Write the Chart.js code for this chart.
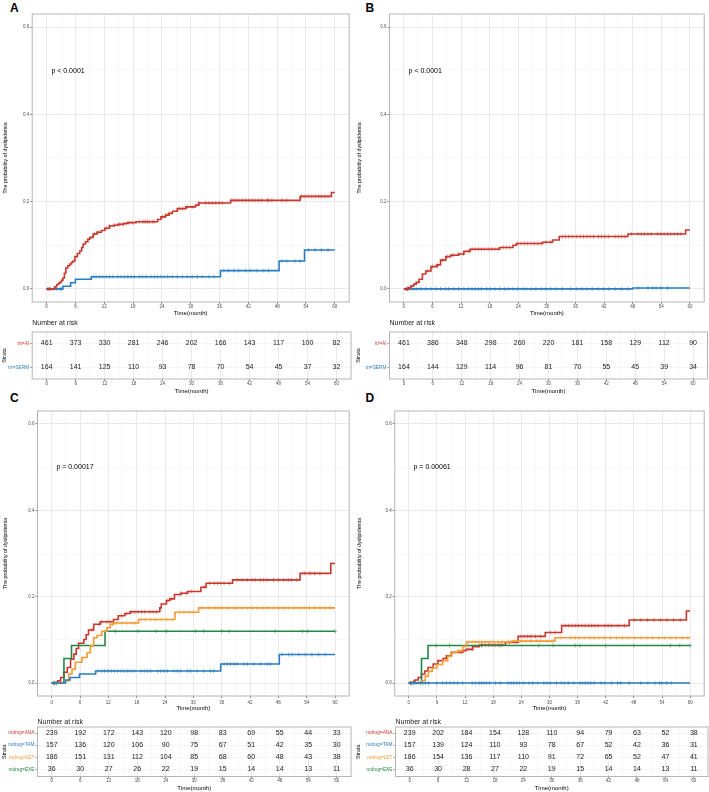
<!DOCTYPE html>
<html>
<head>
<meta charset="utf-8">
<script src="https://cdn.jsdelivr.net/npm/chart.js@4.4.1/dist/chart.umd.min.js"></script>
<style>
body { margin: 0; background: #fff; width: 709px; height: 792px; position: relative; overflow: hidden; font-family: "Liberation Sans", Arial, sans-serif; }
canvas { position: absolute; }
.tag { position: absolute; font-weight: bold; font-size: 12px; line-height: 12px; color: #000; }
</style>
</head>
<body>
<div class="tag" style="left:10px;top:1.7px">A</div>
<div class="tag" style="left:365.5px;top:2.3px">B</div>
<div class="tag" style="left:10px;top:391.7px">C</div>
<div class="tag" style="left:365.5px;top:391.7px">D</div>
<canvas id="kmA"></canvas>
<canvas id="riskA"></canvas>
<canvas id="kmB"></canvas>
<canvas id="riskB"></canvas>
<canvas id="kmC"></canvas>
<canvas id="riskC"></canvas>
<canvas id="kmD"></canvas>
<canvas id="riskD"></canvas>
<script>
// axis ticks
const months = [0, 6, 12, 18, 24, 30, 36, 42, 48, 54, 60];
const monthGrid = [0, 3, 6, 9, 12, 15, 18, 21, 24, 27, 30, 33, 36, 39, 42, 45, 48, 51, 54, 57, 60];
const probGrid = [0, 0.1, 0.2, 0.3, 0.4, 0.5, 0.6];

const trtLabels = ['trt=AI', 'trt=SERM'];
const drugLabels = ['mdrug=ANA', 'mdrug=TAM', 'mdrug=LET', 'mdrug=EXE'];

const RED = '#C9372C', BLUE = '#2A7DC0', ORANGE = '#F39B33', GREEN = '#23874A';

// ---- panel A : trt ----
const aAiTime = [0, 1.7, 2.1, 2.5, 2.8, 3.1, 3.4, 3.7, 4.0, 4.4, 4.8, 5.2, 5.5, 5.9, 6.4, 6.9, 7.3, 7.6, 8.1, 8.6, 9.0, 9.7, 10.5, 11.4, 12.1, 13.1, 14.0, 14.8, 16.0, 16.9, 18.6, 23.1, 23.8, 24.8, 25.5, 26.2, 27.2, 29.0, 31.0, 31.7, 38.3, 52.8, 59.3, 60];
const aAiProb = [0, 0.005, 0.010, 0.013, 0.016, 0.020, 0.025, 0.036, 0.048, 0.053, 0.057, 0.061, 0.064, 0.074, 0.081, 0.087, 0.095, 0.103, 0.108, 0.114, 0.118, 0.126, 0.130, 0.134, 0.139, 0.144, 0.146, 0.148, 0.150, 0.152, 0.154, 0.159, 0.165, 0.169, 0.173, 0.178, 0.184, 0.188, 0.192, 0.197, 0.203, 0.212, 0.221, 0.221];
const aAiCens = [0.3, 0.7, 10.0, 10.7, 12.4, 13.1, 14.1, 15.2, 15.9, 16.6, 17.2, 17.9, 19.3, 20.0, 20.3, 20.7, 21.0, 21.4, 22.1, 22.4, 24.1, 24.8, 25.5, 27.6, 28.3, 29.3, 30.3, 31.7, 33.1, 33.8, 34.5, 35.2, 35.9, 36.6, 38.6, 39.3, 40.0, 40.7, 41.4, 42.1, 42.8, 43.4, 44.1, 44.8, 45.9, 46.2, 46.9, 49.0, 50.0, 53.1, 53.8, 54.5, 55.2, 55.9, 56.6, 57.2, 57.9, 58.6];
const aSermTime = [0, 3.4, 5.0, 6.0, 9.3, 36.2, 48.4, 53.7, 60];
const aSermProb = [0, 0.006, 0.014, 0.022, 0.028, 0.042, 0.064, 0.089, 0.089];
const aSermCens = [0.3, 0.7, 1.4, 2.1, 2.8, 3.1, 9.7, 10.3, 11.0, 11.7, 12.4, 13.1, 13.8, 14.8, 15.5, 16.2, 16.9, 17.6, 18.3, 19.3, 20.0, 20.7, 21.7, 22.4, 23.1, 23.8, 24.5, 25.2, 26.2, 27.2, 28.3, 29.3, 30.3, 31.4, 32.4, 33.8, 34.8, 36.9, 37.9, 39.0, 40.0, 41.4, 42.4, 43.8, 45.2, 46.2, 49.0, 50.0, 51.7, 52.8, 54.5, 55.9, 57.2, 58.6];
const aRiskAi = [461, 373, 330, 281, 246, 202, 166, 143, 117, 100, 82];
const aRiskSerm = [164, 141, 125, 110, 93, 78, 70, 54, 45, 37, 32];

// ---- panel B : trt ----
const bAiTime = [0, 1.0, 1.5, 2.1, 2.6, 3.2, 3.9, 4.6, 5.7, 7.0, 7.7, 8.8, 9.8, 11.5, 12.6, 13.9, 20.1, 22.9, 23.6, 29.1, 31.2, 32.6, 47.0, 59.1, 60];
const bAiProb = [0, 0.003, 0.007, 0.011, 0.015, 0.022, 0.034, 0.041, 0.051, 0.055, 0.066, 0.074, 0.077, 0.080, 0.086, 0.091, 0.095, 0.100, 0.104, 0.107, 0.112, 0.120, 0.126, 0.135, 0.135];
const bAiCens = [0.5, 0.8, 5.0, 6.0, 7.0, 8.1, 9.1, 10.1, 10.5, 11.5, 12.5, 13.6, 14.3, 15.0, 15.7, 16.3, 17.0, 17.7, 18.4, 19.1, 19.8, 20.8, 21.5, 22.2, 23.9, 24.6, 25.3, 26.0, 26.7, 27.4, 28.1, 28.8, 29.8, 30.8, 33.2, 33.9, 34.6, 35.3, 36.3, 37.0, 37.7, 38.4, 39.1, 39.8, 40.8, 41.5, 42.2, 42.9, 44.3, 45.0, 45.7, 46.4, 47.7, 49.1, 49.8, 50.5, 51.2, 51.9, 53.2, 53.9, 54.6, 55.3, 56.0, 56.7, 57.4, 58.1];
const bSermTime = [0, 48.0, 60];
const bSermProb = [0, 0.002, 0.002];
const bSermCens = [0.5, 0.8, 1.2, 1.9, 2.6, 3.6, 4.6, 5.7, 6.7, 7.7, 8.8, 9.4, 10.5, 11.5, 12.6, 13.6, 14.3, 15.0, 15.7, 16.3, 17.4, 18.1, 19.1, 20.1, 21.2, 21.9, 22.9, 23.9, 25.0, 25.7, 26.7, 27.7, 28.8, 29.8, 30.8, 31.9, 33.2, 35.0, 36.3, 37.4, 38.4, 39.5, 40.8, 41.9, 42.9, 44.3, 45.7, 47.0, 49.1, 51.2, 52.2, 52.9, 53.9, 55.3];
const bRiskAi = [461, 386, 348, 298, 260, 220, 181, 158, 129, 112, 90];
const bRiskSerm = [164, 144, 129, 114, 96, 81, 70, 55, 45, 39, 34];

// ---- panel C : mdrug ----
const cAnaTime = [0, 1.3, 1.9, 2.6, 3.3, 4.0, 4.7, 5.2, 5.7, 6.8, 7.3, 7.8, 8.9, 10.3, 13.1, 14.1, 15.5, 16.6, 22.9, 23.2, 24.3, 25.0, 26.0, 27.4, 28.8, 31.6, 32.7, 38.3, 52.6, 59.1, 60];
const cAnaProb = [0, 0.005, 0.013, 0.025, 0.036, 0.055, 0.067, 0.080, 0.092, 0.101, 0.112, 0.123, 0.136, 0.142, 0.147, 0.156, 0.161, 0.165, 0.174, 0.183, 0.191, 0.195, 0.205, 0.208, 0.212, 0.222, 0.231, 0.239, 0.254, 0.277, 0.277];
const cAnaCens = [0.5, 8.5, 10.0, 10.6, 11.7, 12.4, 14.8, 15.9, 16.9, 17.6, 18.3, 19.0, 19.7, 20.8, 21.5, 22.2, 24.6, 25.3, 27.4, 28.5, 29.5, 32.3, 33.4, 34.4, 35.1, 35.8, 36.5, 37.6, 39.3, 40.3, 41.4, 42.4, 43.1, 44.2, 44.9, 45.6, 47.0, 48.0, 49.1, 50.1, 50.8, 51.9, 53.6, 54.7, 55.7, 56.8];
const cTamTime = [0, 2.9, 3.9, 5.9, 9.3, 35.8, 48.2, 60];
const cTamProb = [0, 0.007, 0.013, 0.021, 0.028, 0.044, 0.066, 0.066];
const cTamCens = [0.3, 0.6, 1.0, 9.8, 10.5, 11.2, 11.9, 12.6, 13.3, 14.0, 14.7, 15.4, 16.1, 16.8, 17.5, 18.9, 19.6, 20.3, 21.0, 22.4, 23.1, 23.8, 24.5, 25.9, 26.6, 27.3, 28.7, 29.4, 30.8, 32.2, 33.6, 34.3, 36.5, 37.2, 37.9, 38.6, 39.3, 40.7, 41.4, 42.8, 44.2, 45.6, 46.3, 48.8, 50.2, 50.9, 52.3, 53.7, 55.1, 56.5, 57.9];
const cLetTime = [0, 2.9, 3.6, 4.3, 5.0, 6.4, 7.5, 8.2, 8.9, 9.6, 10.6, 11.7, 12.4, 13.1, 18.4, 26.1, 31.1, 60];
const cLetProb = [0, 0.005, 0.021, 0.032, 0.048, 0.059, 0.070, 0.086, 0.105, 0.110, 0.120, 0.128, 0.136, 0.139, 0.147, 0.164, 0.174, 0.174];
const cLetCens = [0.4, 0.8, 1.5, 2.0, 12.9, 13.8, 14.8, 15.9, 17.0, 17.7, 18.9, 19.8, 20.9, 22.0, 23.3, 24.4, 25.5, 27.2, 28.0, 29.1, 30.0, 31.8, 33.3, 34.6, 35.4, 36.2, 37.5, 38.6, 39.2, 40.3, 41.4, 42.5, 43.6, 44.7, 45.8, 46.9, 48.0, 49.1, 50.2, 51.3, 52.4, 53.5, 54.6, 55.7, 56.8, 57.9, 59.0];
const cExeTime = [0, 2.6, 4.2, 11.3, 60];
const cExeProb = [0, 0.057, 0.087, 0.120, 0.120];
const cExeCens = [0.5, 1.0, 13.5, 18.3, 22.1, 24.3, 30.5, 32.2, 36.0, 37.6, 47.3, 53.1, 54.2, 60];
const cRiskAna = [239, 192, 172, 143, 120, 98, 83, 69, 55, 44, 33];
const cRiskTam = [157, 136, 120, 106, 90, 75, 67, 51, 42, 35, 30];
const cRiskLet = [186, 151, 131, 112, 104, 85, 68, 60, 48, 43, 38];
const cRiskExe = [36, 30, 27, 26, 22, 19, 15, 14, 14, 13, 11];

// ---- panel D : mdrug ----
const dAnaTime = [0, 1.0, 1.3, 2.0, 2.7, 3.4, 4.1, 5.2, 6.2, 7.3, 8.0, 9.1, 11.5, 12.2, 13.6, 15.0, 20.6, 23.3, 29.1, 32.6, 47.0, 59.2, 60];
const dAnaProb = [0, 0.004, 0.007, 0.013, 0.021, 0.028, 0.036, 0.044, 0.052, 0.057, 0.063, 0.071, 0.075, 0.078, 0.084, 0.088, 0.094, 0.108, 0.117, 0.133, 0.146, 0.167, 0.167];
const dAnaCens = [0.3, 0.6, 12.8, 13.5, 15.6, 16.3, 17.0, 17.7, 18.4, 19.1, 19.8, 21.5, 23.9, 24.6, 25.3, 26.0, 27.0, 28.1, 30.2, 31.2, 33.4, 34.1, 34.8, 35.5, 36.2, 36.9, 37.6, 38.3, 39.0, 39.7, 40.4, 41.8, 42.5, 43.2, 44.6, 46.0, 48.1, 49.5, 50.9, 52.3, 53.7, 55.1, 56.5, 57.9];
const dTamTime = [0, 60];
const dTamProb = [0, 0];
const dTamCens = [0.3, 0.6, 1.0, 1.5, 2.0, 2.5, 3.0, 3.5, 4.2, 6.0, 7.2, 8.0, 8.8, 9.6, 10.4, 11.5, 13.5, 14.2, 15.0, 15.5, 16.0, 16.5, 17.2, 18.5, 19.5, 21.2, 21.8, 22.4, 23.0, 23.6, 24.5, 25.6, 26.4, 27.5, 28.8, 29.5, 30.2, 31.5, 32.5, 33.2, 34.0, 35.2, 36.5, 37.0, 37.6, 38.2, 38.8, 39.5, 41.0, 41.8, 43.2, 44.5, 45.2, 47.0, 49.5, 51.0, 52.5, 53.5, 54.0, 55.0, 56.0];
const dLetTime = [0, 2.8, 3.5, 4.2, 5.0, 6.0, 7.2, 8.3, 9.0, 10.5, 11.5, 12.3, 22.0, 31.2, 60];
const dLetProb = [0, 0.006, 0.016, 0.027, 0.035, 0.043, 0.052, 0.062, 0.071, 0.075, 0.085, 0.095, 0.097, 0.105, 0.105];
const dLetCens = [0.5, 1.0, 12.8, 13.5, 14.2, 14.9, 15.6, 16.4, 17.2, 18.1, 19.0, 20.0, 21.2, 22.5, 24.0, 25.0, 26.1, 27.3, 28.2, 29.5, 30.6, 32.5, 34.5, 35.5, 36.4, 37.4, 38.6, 39.5, 40.5, 41.7, 43.0, 44.3, 45.5, 46.8, 48.2, 49.5, 50.8, 52.0, 53.3, 54.6, 55.8, 57.0, 58.3, 59.5];
const dExeTime = [0, 2.7, 4.1, 60];
const dExeProb = [0, 0.057, 0.087, 0.087];
const dExeCens = [0.4, 1.0, 5.8, 8.7, 15.5, 19.5, 27.7, 30.8, 35.5, 36.5, 42.0, 48.0, 55.8, 57.8, 60];
const dRiskAna = [239, 202, 184, 154, 128, 110, 94, 79, 63, 52, 38];
const dRiskTam = [157, 139, 124, 110, 93, 78, 67, 52, 42, 36, 31];
const dRiskLet = [186, 154, 136, 117, 110, 91, 72, 65, 52, 47, 41];
const dRiskExe = [36, 30, 28, 27, 22, 19, 15, 14, 14, 13, 11];

Chart.defaults.font.family = '"Liberation Sans", Arial, sans-serif';
Chart.defaults.animation = false;

const FONT = '"Liberation Sans", Arial, sans-serif';

// value of a step curve at time t (censor marks sit on the curve)
function levelAt(time, prob, t) {
    let v = prob[0];
    for (let i = 0; i < time.length; i++) {
        if (time[i] <= t) v = prob[i];
    }
    return v;
}

// ggplot style panel border
const panelBox = {
    id: 'panelBox',
    afterDraw(chart) {
        const a = chart.chartArea, ctx = chart.ctx;
        ctx.save();
        ctx.strokeStyle = '#B5B5B5';
        ctx.lineWidth = 1;
        ctx.strokeRect(a.left, a.top, a.right - a.left, a.bottom - a.top);
        ctx.restore();
    }
};

const pvalLabel = {
    id: 'pvalLabel',
    afterDatasetsDraw(chart, args, opts) {
        const ctx = chart.ctx;
        ctx.save();
        ctx.font = '7px ' + FONT;
        ctx.fillStyle = '#000';
        ctx.textAlign = 'left';
        ctx.textBaseline = 'middle';
        ctx.fillText(opts.text, chart.scales.x.getPixelForValue(opts.x), chart.scales.y.getPixelForValue(opts.y));
        ctx.restore();
    }
};

const riskNumbers = {
    id: 'riskNumbers',
    afterDatasetsDraw(chart) {
        const ctx = chart.ctx;
        ctx.save();
        ctx.font = '7px ' + FONT;
        ctx.fillStyle = '#1A1A1A';
        ctx.textAlign = 'center';
        ctx.textBaseline = 'middle';
        chart.data.datasets.forEach((ds, i) => {
            chart.getDatasetMeta(i).data.forEach((pt, j) => ctx.fillText(ds.data[j].n, pt.x, pt.y));
        });
        ctx.restore();
    }
};

function place(id, g) {
    const c = document.getElementById(id);
    c.width = g.w;
    c.height = g.h;
    c.style.left = g.left + 'px';
    c.style.top = g.top + 'px';
    return c;
}

function timeAxis(g) {
    return {
        type: 'linear', min: -3, max: 63,
        afterBuildTicks: s => { s.ticks = monthGrid.map(v => ({ value: v })); },
        afterFit: s => { s.height = g.xh; },
        ticks: {
            callback: v => (v % 6 === 0 ? v : ''),
            autoSkip: false, maxRotation: 0, padding: g.tp,
            font: { size: 4.5 }, color: '#4D4D4D'
        },
        grid: {
            color: c => (c.tick && c.tick.value % 6 === 0 ? '#E4E4E4' : '#F1F1F1'),
            lineWidth: c => (c.tick && c.tick.value % 6 === 0 ? 0.8 : 0.5),
            tickColor: c => (c.tick && c.tick.value % 6 === 0 ? '#333' : 'rgba(0,0,0,0)'),
            tickLength: 2, tickWidth: 0.6
        },
        border: { display: false },
        title: { display: true, text: 'Time(month)', color: '#000', font: { size: 6 }, padding: { top: 0, bottom: g.tb } }
    };
}

function kmChart(id, g, curves, pText) {
    const datasets = [];
    curves.forEach(c => {
        datasets.push({
            data: c.time.map((t, i) => ({ x: t, y: c.prob[i] })),
            showLine: true, stepped: true, borderColor: c.color, borderWidth: 1.6,
            pointRadius: 0, fill: false
        });
        datasets.push({
            data: c.cens.map(t => ({ x: t, y: levelAt(c.time, c.prob, t) })),
            showLine: false, pointStyle: 'cross', pointRadius: 2.1,
            borderColor: c.color + 'AA', borderWidth: 0.8
        });
    });
    return new Chart(place(id, g), {
        type: 'scatter',
        data: { datasets: datasets },
        options: {
            responsive: false,
            layout: { padding: { top: g.pt, right: g.pr, left: 0, bottom: 0 } },
            plugins: {
                legend: { display: false },
                tooltip: { enabled: false },
                pvalLabel: { text: pText, x: 1, y: 0.5 }
            },
            scales: {
                x: timeAxis(g),
                y: {
                    min: -0.03, max: 0.63,
                    afterBuildTicks: s => { s.ticks = probGrid.map(v => ({ value: v })); },
                    afterFit: s => { s.width = g.yw; },
                    ticks: {
                        callback: v => (Math.round(v * 10) % 2 === 0 ? v.toFixed(1) : ''),
                        padding: 1, font: { size: 4.5 }, color: '#4D4D4D'
                    },
                    grid: {
                        color: c => (c.tick && Math.round(c.tick.value * 10) % 2 === 0 ? '#E4E4E4' : '#F1F1F1'),
                        lineWidth: c => (c.tick && Math.round(c.tick.value * 10) % 2 === 0 ? 0.8 : 0.5),
                        tickColor: c => (c.tick && Math.round(c.tick.value * 10) % 2 === 0 ? '#333' : 'rgba(0,0,0,0)'),
                        tickLength: 2, tickWidth: 0.6
                    },
                    border: { display: false },
                    title: { display: true, text: 'The probability of dyslipidemia', color: '#000', font: { size: 5.3 }, padding: { top: 2 } }
                }
            }
        },
        plugins: [panelBox, pvalLabel]
    });
}

function riskChart(id, g, labels, colors, counts) {
    const rows = labels.map((l, i) => i + 1);
    const datasets = counts.map((arr, i) => ({
        data: months.map((t, j) => ({ x: t, y: i + 1, n: arr[j] })),
        pointRadius: 0, showLine: false
    }));
    return new Chart(place(id, g), {
        type: 'scatter',
        data: { datasets: datasets },
        options: {
            responsive: false,
            layout: { padding: { top: 0, right: g.pr, left: 0, bottom: 0 } },
            plugins: {
                legend: { display: false },
                tooltip: { enabled: false },
                title: {
                    display: true, text: 'Number at risk', align: 'start', fullSize: false,
                    color: '#1A1A1A', font: { size: 7, weight: 'normal' },
                    padding: { top: g.ht, bottom: g.hb }
                }
            },
            scales: {
                x: timeAxis(g),
                y: {
                    reverse: true, min: g.ymin, max: g.ymax,
                    afterBuildTicks: s => { s.ticks = rows.map(v => ({ value: v })); },
                    afterFit: s => { s.width = g.yw; },
                    ticks: {
                        callback: v => labels[v - 1],
                        color: c => colors[c.index],
                        padding: 1, font: { size: 4.8 }
                    },
                    grid: { color: '#EDEDED', lineWidth: 0.6, tickColor: '#555', tickLength: 2, tickWidth: 0.6 },
                    border: { display: false },
                    title: { display: true, text: 'Strata', color: '#000', font: { size: 5.5 }, padding: { top: 1 } }
                }
            }
        },
        plugins: [panelBox, riskNumbers]
    });
}

kmChart('kmA', { left: 0, top: 0, w: 354, h: 318, yw: 32.2, pt: 14, pr: 3, xh: 16, tp: 0, tb: 1.4 }, [
    { time: aAiTime, prob: aAiProb, cens: aAiCens, color: RED },
    { time: aSermTime, prob: aSermProb, cens: aSermCens, color: BLUE }
], 'p < 0.0001');
riskChart('riskA', { left: 0, top: 318, w: 354, h: 78, yw: 32.2, pr: 3, xh: 17, tp: 0, tb: 1.4, ht: 0.8, hb: 4.8, ymin: 0.52, ymax: 2.48 },
    trtLabels, [RED, BLUE], [aRiskAi, aRiskSerm]);

kmChart('kmB', { left: 354, top: 0, w: 355, h: 318, yw: 35.5, pt: 14, pr: 1.5, xh: 16, tp: 0, tb: 1.4 }, [
    { time: bAiTime, prob: bAiProb, cens: bAiCens, color: RED },
    { time: bSermTime, prob: bSermProb, cens: bSermCens, color: BLUE }
], 'p < 0.0001');
riskChart('riskB', { left: 354, top: 318, w: 355, h: 78, yw: 35.5, pr: 1.5, xh: 17, tp: 0, tb: 1.4, ht: 0.8, hb: 4.8, ymin: 0.52, ymax: 2.48 },
    trtLabels, [RED, BLUE], [bRiskAi, bRiskSerm]);

kmChart('kmC', { left: 0, top: 396, w: 354, h: 316, yw: 37.5, pt: 15, pr: 2, xh: 16, tp: 2, tb: 0 }, [
    { time: cTamTime, prob: cTamProb, cens: cTamCens, color: BLUE },
    { time: cLetTime, prob: cLetProb, cens: cLetCens, color: ORANGE },
    { time: cExeTime, prob: cExeProb, cens: cExeCens, color: GREEN },
    { time: cAnaTime, prob: cAnaProb, cens: cAnaCens, color: RED }
], 'p = 0.00017');
riskChart('riskC', { left: 0, top: 712, w: 354, h: 80, yw: 37.5, pr: 3, xh: 15.5, tp: 0, tb: 0.4, ht: 5.8, hb: 0.8, ymin: 0.5, ymax: 4.6 },
    drugLabels, [RED, BLUE, ORANGE, GREEN], [cRiskAna, cRiskTam, cRiskLet, cRiskExe]);

kmChart('kmD', { left: 354, top: 396, w: 355, h: 316, yw: 40.75, pt: 15, pr: 0.75, xh: 16, tp: 2, tb: 0 }, [
    { time: dTamTime, prob: dTamProb, cens: dTamCens, color: BLUE },
    { time: dLetTime, prob: dLetProb, cens: dLetCens, color: ORANGE },
    { time: dExeTime, prob: dExeProb, cens: dExeCens, color: GREEN },
    { time: dAnaTime, prob: dAnaProb, cens: dAnaCens, color: RED }
], 'p = 0.00061');
riskChart('riskD', { left: 354, top: 712, w: 355, h: 80, yw: 41.5, pr: 1, xh: 15.5, tp: 0, tb: 0.4, ht: 5.8, hb: 0.8, ymin: 0.5, ymax: 4.6 },
    drugLabels, [RED, BLUE, ORANGE, GREEN], [dRiskAna, dRiskTam, dRiskLet, dRiskExe]);
</script>
</body>
</html>
